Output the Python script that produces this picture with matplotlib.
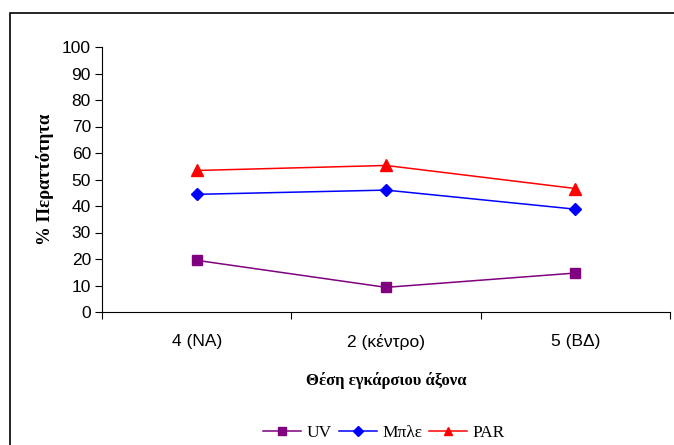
import matplotlib
matplotlib.use("Agg")
import matplotlib.pyplot as plt
from matplotlib.patches import Rectangle

categories = ["4 (NA)", "2 (κέντρο)", "5 (ΒΔ)"]
uv = [19.5, 9.3, 14.7]
blue = [44.4, 46.0, 38.8]
par = [53.4, 55.3, 46.6]
series_names = ["UV", "Μπλε", "PAR"]
yticks = list(range(0, 101, 10))

W, H = 674, 445
fig = plt.figure(figsize=(W/100, H/100), dpi=100)
ax = fig.add_axes([102/W, 1-312/H, (670-102)/W, (312-47)/H])

x = list(range(1, len(categories)+1))
ax.plot(x, uv, color="#800080", marker="s", markersize=6.5, lw=1.1, label=series_names[0])
ax.plot(x, blue, color="#0000FF", marker="D", markersize=6, lw=1.1, label=series_names[1])
ax.plot(x, par, color="#FF0000", marker="^", markersize=8, lw=1.1, label=series_names[2])

ax.set_xlim(0.5, len(categories)+0.5)
ax.set_ylim(0, 100)
ax.set_yticks(yticks)
ax.set_yticklabels([str(v) for v in yticks], fontfamily="Liberation Sans", fontsize=12.5)
ax.set_xticks(x)
ax.set_xticklabels(categories, fontfamily="Liberation Sans", fontsize=12.5)
ax.tick_params(axis="x", which="major", length=0, pad=16)
ax.set_xticks([i + 0.5 for i in range(0, len(categories)+1)], minor=True)
ax.tick_params(axis="x", which="minor", length=5, direction="out", width=0.8)
ax.tick_params(axis="y", length=5, direction="out", width=0.8, pad=3)
for s in ["top", "right"]:
    ax.spines[s].set_visible(False)
for s in ["left", "bottom"]:
    ax.spines[s].set_linewidth(0.8)

ax.set_ylabel("% Περαττότητα", fontfamily="Liberation Serif", fontweight="bold", fontsize=13.5, labelpad=6)
ax.set_xlabel("Θέση εγκάρσιου άξονα", fontfamily="Liberation Serif", fontweight="bold", fontsize=12, labelpad=16)

leg = fig.legend(loc="center", bbox_to_anchor=(384/W, 1-433/H), ncol=3, frameon=False,
                 prop={"family": "Liberation Serif", "size": 12.5}, handlelength=2.2,
                 columnspacing=0.4, handletextpad=0.3, markerscale=0.8)

fig.patches.append(Rectangle((10/W, -0.1), 1.2, 1.1 - 13/H, transform=fig.transFigure,
                             fill=False, edgecolor="black", lw=1.2))

fig.savefig("out.png", dpi=100)
